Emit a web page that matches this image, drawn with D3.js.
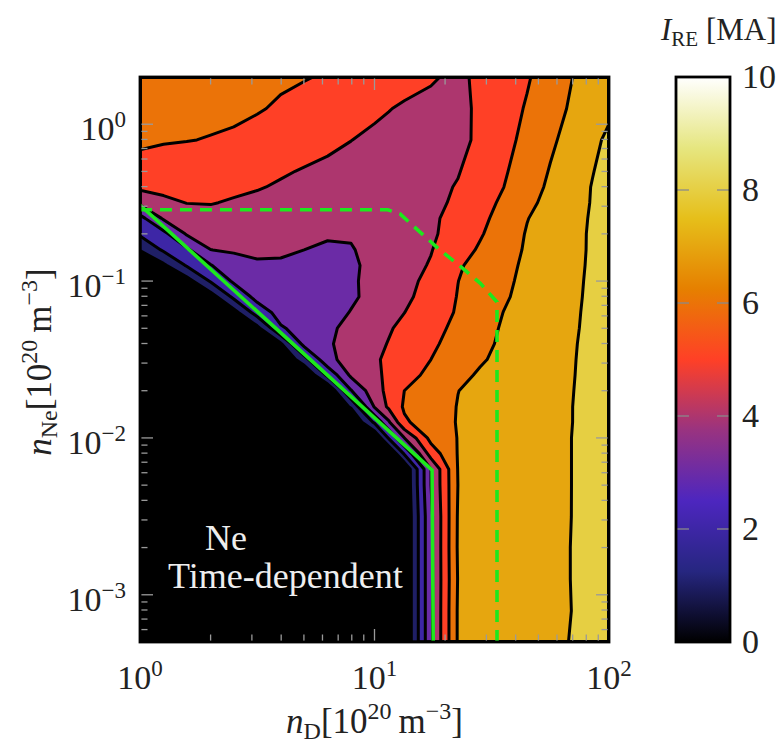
<!DOCTYPE html>
<html><head><meta charset="utf-8">
<script src="https://cdn.jsdelivr.net/npm/d3@7"></script>
<style>
body{margin:0;background:#fff;}
text{font-family:"Liberation Serif","DejaVu Serif",serif;fill:#222;}
</style></head>
<body><svg id="chart" width="780" height="745"></svg>
<script>
// ---------- data ----------
const nD = [1, 1.26, 1.58, 2.0, 2.51, 3.16, 3.98, 5.01, 6.31, 7.94, 10, 11.5, 13.4, 17.4, 22.7, 28.2, 35.5, 44.7, 56.2, 70.8, 85.1, 100];
const nNe = [0.0005, 0.00079, 0.00126, 0.002, 0.00316, 0.00501, 0.00631, 0.00794, 0.01, 0.0126, 0.0158, 0.02, 0.0251, 0.0316, 0.0398,
             0.0501, 0.0631, 0.0794, 0.1, 0.126, 0.158, 0.2, 0.251, 0.316, 0.398, 0.501, 0.794, 1.26, 2.0];
// I_RE [MA]: one row per nNe value (ascending), one column per nD value
const IRE = [
 [0,0,0,0,0,0,0,0,0,0,0,0,0,3.8,7.1,7.21,7.42,7.62,7.83,8.05,8.15,8.3],
 [0,0,0,0,0,0,0,0,0,0,0,0,0,3.8,7.1,7.21,7.42,7.62,7.83,8.02,8.15,8.3],
 [0,0,0,0,0,0,0,0,0,0,0,0,0,3.8,7.05,7.21,7.42,7.62,7.83,8.03,8.15,8.3],
 [0,0,0,0,0,0,0,0,0,0,0,0,0,3.8,7.1,7.21,7.42,7.62,7.83,8.03,8.15,8.3],
 [0,0,0,0,0,0,0,0,0,0,0,0,0,3.8,7.08,7.21,7.42,7.62,7.83,8.02,8.15,8.3],
 [0,0,0,0,0,0,0,0,0,0,0,0,0.1,3.99,7.01,7.21,7.41,7.62,7.82,8.02,8.15,8.3],
 [0,0,0,0,0,0,0,0,0,0,0,0,0.13,3.99,7.04,7.21,7.41,7.62,7.82,8.02,8.15,8.3],
 [0,0,0,0,0,0,0,0,0,0,0,0,2.1,5.44,7.05,7.21,7.42,7.62,7.82,8.02,8.15,8.3],
 [0,0,0,0,0,0,0,0,0,0,0.1,2.09,3.99,6.31,7.03,7.22,7.42,7.62,7.82,8.02,8.15,8.3],
 [0,0,0,0,0,0,0,0,0,0,2.15,3.87,5.85,6.54,7.05,7.23,7.43,7.62,7.82,8.01,8.15,8.3],
 [0,0,0,0,0,0,0,0,0,1.11,4.07,5.18,6.12,6.59,7.03,7.22,7.42,7.61,7.81,8.01,8.15,8.3],
 [0,0,0,0,0,0,0,0,0.1,2.94,4.64,5.23,6.0,6.49,6.99,7.19,7.39,7.59,7.8,8.0,8.15,8.3],
 [0,0,0,0,0,0,0,0,2.18,4.17,4.8,5.19,5.61,6.26,6.78,7.1,7.33,7.55,7.77,7.99,8.14,8.3],
 [0,0,0,0,0,0,0,1.57,3.73,4.4,4.88,5.17,5.47,6.0,6.5,6.91,7.21,7.47,7.73,7.98,8.15,8.3],
 [0,0,0,0,0,0,0.9,3.3,3.88,4.36,4.78,5.04,5.33,5.84,6.36,6.78,7.14,7.42,7.7,7.97,8.13,8.3],
 [0,0,0,0,0,0.75,2.9,3.35,3.8,4.28,4.68,4.92,5.2,5.7,6.22,6.67,7.09,7.38,7.66,7.95,8.12,8.3],
 [0,0,0,0,0.64,2.45,3.35,3.4,3.6,4.04,4.46,4.72,4.99,5.54,6.09,6.54,7.01,7.32,7.63,7.93,8.12,8.3],
 [0,0,0,0.54,2.22,3.3,3.44,3.52,3.56,3.85,4.29,4.53,4.8,5.38,6.04,6.46,6.9,7.25,7.58,7.9,8.12,8.3],
 [0,0,0.59,2.1,3.13,3.55,3.67,3.68,3.7,3.88,4.26,4.48,4.72,5.25,5.99,6.4,6.83,7.2,7.54,7.88,8.11,8.3],
 [0,0.84,2.09,2.95,3.66,3.89,3.9,3.84,3.8,3.85,4.24,4.44,4.65,5.07,5.88,6.33,6.76,7.15,7.5,7.85,8.1,8.3],
 [1.05,2.13,2.82,3.99,4.09,4.16,4.11,4.0,3.92,3.95,4.23,4.41,4.61,4.96,5.59,6.12,6.64,7.1,7.47,7.83,8.09,8.3],
 [2.14,2.73,4.09,4.35,4.37,4.38,4.31,4.19,4.06,4.07,4.2,4.35,4.5,4.85,5.43,5.91,6.5,7.06,7.43,7.8,8.1,8.35],
 [2.68,4.12,4.56,4.71,4.65,4.61,4.51,4.38,4.24,4.23,4.32,4.45,4.57,4.85,5.3,5.77,6.34,6.97,7.37,7.77,8.08,8.33],
 [4.23,4.8,5.02,5.04,4.92,4.83,4.71,4.56,4.42,4.38,4.45,4.55,4.65,4.85,5.1,5.64,6.16,6.77,7.28,7.72,8.05,8.3],
 [5.19,5.24,5.27,5.27,5.17,5.05,4.92,4.75,4.6,4.54,4.57,4.6,4.62,4.75,5.06,5.51,5.99,6.59,7.16,7.65,8.04,8.3],
 [5.56,5.5,5.45,5.4,5.32,5.2,5.08,4.95,4.85,4.75,4.7,4.65,4.62,4.65,4.95,5.4,5.89,6.46,7.06,7.56,7.97,8.3],
 [6.2,6.08,6.03,5.96,5.88,5.69,5.5,5.32,5.16,5.01,4.85,4.75,4.7,4.65,4.8,5.14,5.7,6.26,6.84,7.38,7.82,8.15],
 [6.5,6.41,6.32,6.22,6.17,6.07,5.89,5.7,5.52,5.33,5.14,5.03,4.9,4.75,4.8,5.13,5.6,6.08,6.64,7.16,7.53,7.85],
 [6.7,6.61,6.51,6.42,6.33,6.24,6.14,6.05,5.92,5.73,5.54,5.43,5.31,5.1,4.8,5.2,5.55,5.91,6.45,7.03,7.39,7.7]
];
const levels = [1, 2, 3, 4, 5, 6, 7, 8, 9];
const cbTicks = [0, 2, 4, 6, 8, 10];
const xTickVals = [1, 10, 100];
const xTickExp = ["0", "1", "2"];
const yTickVals = [1e-3, 1e-2, 1e-1, 1];
const yTickExp = ["\u22123", "\u22122", "\u22121", "0"];
// green solid boundary
const solidND = [1.0, 17.6, 17.8];
const solidNNe = [0.305, 0.00624, 0.0005];
// green dashed boundary
const dashND = [1.0, 11.4, 12.85, 15.6, 19.0, 23.1, 28.2, 33.3, 33.3];
const dashNNe = [0.285, 0.285, 0.268, 0.206, 0.158, 0.125, 0.097, 0.0735, 0.0005];

// ---------- colormap (CMRmap) ----------
const cmrStops = [[0,0,0],[.15,.15,.5],[.3,.15,.75],[.6,.2,.5],[1,.25,.15],[.9,.5,0],[.9,.75,.1],[.9,.9,.5],[1,1,1]];
function cmr(t){
  t = Math.max(0, Math.min(1, t));
  const s = t*8, i = Math.min(7, Math.floor(s)), f = s - i;
  const a = cmrStops[i], b = cmrStops[i+1];
  return d3.rgb(255*(a[0]+(b[0]-a[0])*f), 255*(a[1]+(b[1]-a[1])*f), 255*(a[2]+(b[2]-a[2])*f)).formatHex();
}

// ---------- layout ----------
const L = 140, R = 609, T = 77, B = 642;
const svg = d3.select("#chart");
const x = d3.scaleLog().domain([1, 100]).range([L, R]);
const y = d3.scaleLog().domain([5e-4, 2]).range([B, T]);

const defs = svg.append("defs");
defs.append("clipPath").attr("id","clip")
  .append("rect").attr("x",L).attr("y",T).attr("width",R-L).attr("height",B-T);

const plot = svg.append("g").attr("clip-path","url(#clip)");

// contour grid -> pixel mapping
const xNodes = nD.map(d => x(d));
const yNodes = nNe.map(d => y(d));
function interp(arr, t){
  let k = t - 0.5;
  if (k <= 0) return arr[0];
  if (k >= arr.length - 1) return arr[arr.length - 1];
  const i = Math.floor(k), f = k - i;
  return arr[i] + (arr[i+1] - arr[i]) * f;
}
const proj = d3.geoTransform({ point(px, py){ this.stream.point(interp(xNodes, px), interp(yNodes, py)); } });
const gpath = d3.geoPath(proj);

const flat = [];
IRE.forEach(row => row.forEach(v => flat.push(v)));
const contours = d3.contours().size([nD.length, nNe.length]).thresholds(levels)(flat);

plot.append("rect").attr("x",L).attr("y",T).attr("width",R-L).attr("height",B-T).attr("fill", cmr(0));
plot.selectAll("path.band").data(contours).join("path")
  .attr("class","band").attr("d", gpath).attr("fill", d => cmr(d.value/10)).attr("fill-rule","evenodd");
plot.selectAll("path.cline").data(contours).join("path")
  .attr("class","cline").attr("d", gpath).attr("fill","none").attr("stroke","#000")
  .attr("stroke-width",3).attr("stroke-linejoin","round");

// green lines
const line = d3.line().x(d => x(d[0])).y(d => y(d[1]));
plot.append("path").attr("d", line(solidND.map((v,i)=>[v, solidNNe[i]])))
  .attr("fill","none").attr("stroke","#1de81d").attr("stroke-width",3.6);
plot.append("path").attr("d", line(dashND.map((v,i)=>[v, dashNNe[i]])))
  .attr("fill","none").attr("stroke","#1de81d").attr("stroke-width",3.6).attr("stroke-dasharray","12,8");

// ticks (inward, all sides)
const tg = svg.append("g").attr("stroke","#9a9a9a").attr("stroke-width",1.3);
const isMajor = v => Math.abs(Math.log10(v) - Math.round(Math.log10(v))) < 1e-6;
x.ticks().forEach(v => {
  const px = x(v), len = isMajor(v) ? 13 : 7.5;
  if (px <= L+1 || px >= R-1) return;
  tg.append("line").attr("x1",px).attr("x2",px).attr("y1",B).attr("y2",B-len);
  tg.append("line").attr("x1",px).attr("x2",px).attr("y1",T).attr("y2",T+len);
});
y.ticks().forEach(v => {
  const py = y(v), len = isMajor(v) ? 13 : 7.5;
  if (py <= T+1 || py >= B-1) return;
  tg.append("line").attr("x1",L).attr("x2",L+len).attr("y1",py).attr("y2",py);
  tg.append("line").attr("x1",R).attr("x2",R-len).attr("y1",py).attr("y2",py);
});

// frame
svg.append("rect").attr("x",L).attr("y",T).attr("width",R-L).attr("height",B-T)
  .attr("fill","none").attr("stroke","#000").attr("stroke-width",2.8);

// annotation
svg.append("text").attr("x",205).attr("y",550).attr("font-size",36).style("fill","#eeeeee").text("Ne");
svg.append("text").attr("x",168).attr("y",588).attr("font-size",36).style("fill","#eeeeee").text("Time-dependent");

// tick labels
xTickVals.forEach((v,i) => {
  const t = svg.append("text").attr("x", x(v)).attr("y", 689).attr("text-anchor","middle").attr("font-size",34);
  t.append("tspan").text("10");
  t.append("tspan").attr("font-size",23).attr("dy",-13).text(xTickExp[i]);
});
yTickVals.forEach((v,i) => {
  const t = svg.append("text").attr("x", 126).attr("y", y(v)+16).attr("text-anchor","end").attr("font-size",34);
  t.append("tspan").text("10");
  t.append("tspan").attr("font-size",23).attr("dy",-13).text(yTickExp[i]);
});

// axis labels
function unitLabel(sel, sub){
  sel.append("tspan").attr("font-style","italic").text("n");
  sel.append("tspan").attr("font-size",24).attr("dy",6).text(sub);
  sel.append("tspan").attr("dy",-6).text("[10");
  sel.append("tspan").attr("font-size",24).attr("dy",-14).text("20");
  sel.append("tspan").attr("dy",14).text("\u2009m");
  sel.append("tspan").attr("font-size",24).attr("dy",-14).text("\u22123");
  sel.append("tspan").attr("dy",14).text("]");
}
unitLabel(svg.append("text").attr("x",(L+R)/2).attr("y",733).attr("text-anchor","middle").attr("font-size",35), "D");
unitLabel(svg.append("text").attr("transform","translate(51,362) rotate(-90)").attr("text-anchor","middle").attr("font-size",35), "Ne");

// colorbar
const cbX = 676, cbW = 54;
const cy = d3.scaleLinear().domain([0,10]).range([B, T]);
const grad = defs.append("linearGradient").attr("id","cbgrad")
  .attr("x1",0).attr("y1",1).attr("x2",0).attr("y2",0);
cmrStops.forEach((c,i) => grad.append("stop").attr("offset", i/8)
  .attr("stop-color", d3.rgb(c[0]*255, c[1]*255, c[2]*255).formatHex()));
svg.append("rect").attr("x",cbX).attr("y",T).attr("width",cbW).attr("height",B-T).attr("fill","url(#cbgrad)");
const cg = svg.append("g").attr("stroke","#8a8a8a").attr("stroke-width",1.3);
cbTicks.forEach(v => {
  if (v === 0 || v === 10) return;
  cg.append("line").attr("x1",cbX).attr("x2",cbX+13).attr("y1",cy(v)).attr("y2",cy(v));
  cg.append("line").attr("x1",cbX+cbW).attr("x2",cbX+cbW-13).attr("y1",cy(v)).attr("y2",cy(v));
});
svg.append("rect").attr("x",cbX).attr("y",T).attr("width",cbW).attr("height",B-T)
  .attr("fill","none").attr("stroke","#000").attr("stroke-width",2.8);
cbTicks.forEach(v => {
  svg.append("text").attr("x",742).attr("y",cy(v)+11).attr("font-size",34).text(String(v));
});
const ct = svg.append("text").attr("x",661).attr("y",40).attr("font-size",31);
ct.append("tspan").attr("font-style","italic").text("I");
ct.append("tspan").attr("font-size",21).attr("dy",6).text("RE");
ct.append("tspan").attr("dy",-6).text(" [MA]");
</script>
</body></html>
